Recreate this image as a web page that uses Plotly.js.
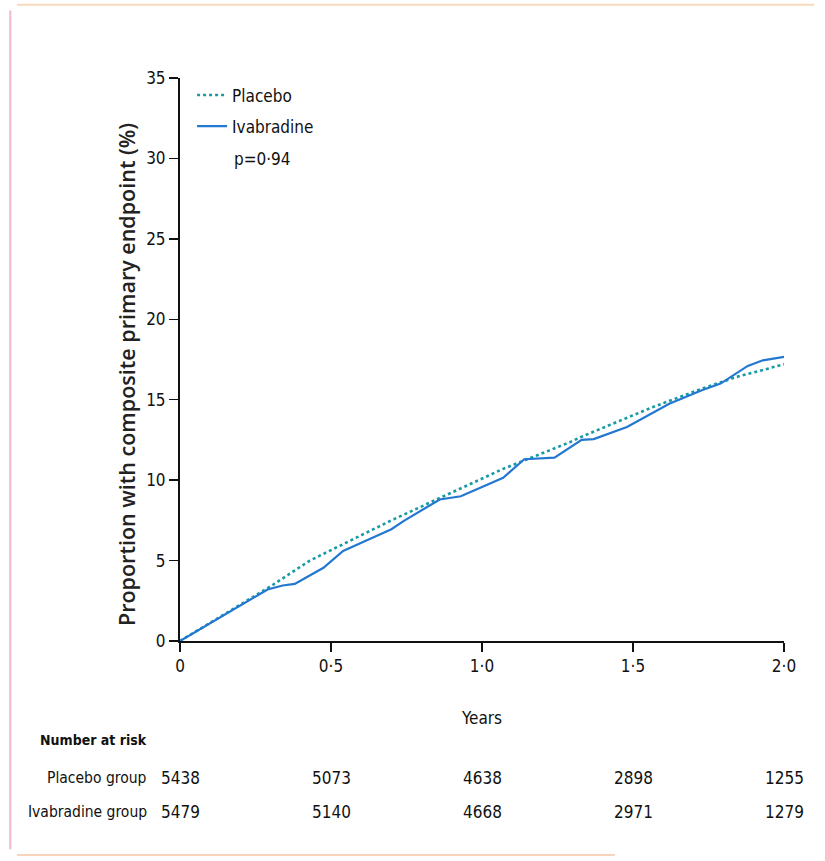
<!DOCTYPE html>
<html>
<head>
<meta charset="utf-8">
<script src="https://cdn.plot.ly/plotly-3.0.1.min.js"></script>
<style>html,body{margin:0;padding:0;background:#fff;}#chart{width:825px;height:861px;}</style>
</head>
<body>
<div id="chart"></div>
<script>
// ---- data ----
const placeboYears = [0, 0.15, 0.30, 0.43, 0.56, 0.70, 0.85, 1.07, 1.29, 1.33, 1.56, 1.73, 1.84, 2.00];
const placeboPct   = [0, 1.7, 3.4, 5.0, 6.2, 7.5, 8.8, 10.7, 12.35, 12.7, 14.5, 15.7, 16.4, 17.2];

const ivabYears = [0, 0.15, 0.29, 0.34, 0.38, 0.475, 0.54, 0.63, 0.70, 0.74, 0.86, 0.93, 0.98, 1.07, 1.14, 1.24, 1.33, 1.37, 1.48, 1.62, 1.73, 1.79, 1.88, 1.93, 2.01];
const ivabPct   = [0, 1.65, 3.2, 3.45, 3.55, 4.55, 5.6, 6.35, 6.95, 7.45, 8.8, 9.0, 9.4, 10.15, 11.3, 11.4, 12.5, 12.55, 13.3, 14.75, 15.6, 16.0, 17.1, 17.45, 17.7];

const seriesNames = ["Placebo", "Ivabradine"];
const pValueText = "p=0·94";
const yTitleText = "Proportion with composite primary endpoint (%)";

const xTickVals = [0, 0.5, 1.0, 1.5, 2.0];
const xTickText = ["0", "0·5", "1·0", "1·5", "2·0"];
const yTickVals = [0, 5, 10, 15, 20, 25, 30, 35];

const riskHeader = "Number at risk";
const riskGroups = ["Placebo group", "Ivabradine group"];
const riskPlacebo = [5438, 5073, 4638, 2898, 1255];
const riskIvab    = [5479, 5140, 4668, 2971, 1279];

// ---- styling ----
const narrow = "DejaVu Sans Condensed, Liberation Sans Narrow, Arial Narrow, sans-serif";
const tickFont = {family: narrow, size: 17, color: "#111"};

const traces = [
  {x: placeboYears, y: placeboPct, name: seriesNames[0], legendgroup: "a", type: "scatter", mode: "lines",
   line: {color: "#179aa6", width: 2.6, dash: "dot"}},
  {x: ivabYears, y: ivabPct, name: seriesNames[1], legendgroup: "b", type: "scatter", mode: "lines",
   line: {color: "#2277d0", width: 2.2}}
];

const annotations = [];
annotations.push({xref: "paper", yref: "paper", x: 0.0865, y: 0.856, xanchor: "left", yanchor: "middle",
  text: pValueText, showarrow: false, font: {family: narrow, size: 17, color: "#111"}});
annotations.push({xref: "paper", yref: "paper", x: -0.0877, y: 0.4725, xanchor: "center", yanchor: "middle",
  textangle: -90, text: yTitleText, showarrow: false,
  font: {family: "Open Sans, DejaVu Sans, sans-serif", size: 21.5, color: "#222", weight: 600}});
annotations.push({xref: "paper", yref: "paper", x: -0.051, y: -0.176, xanchor: "right", yanchor: "middle",
  text: "<b>" + riskHeader + "</b>", showarrow: false, font: {family: narrow, size: 14, color: "#111"}});
const rowY = [-0.243, -0.304];
const rows = [riskPlacebo, riskIvab];
for (let r = 0; r < 2; r++) {
  annotations.push({xref: "paper", yref: "paper", x: -0.051, y: rowY[r], xanchor: "right", yanchor: "middle",
    text: riskGroups[r], showarrow: false, font: {family: narrow, size: 15.5, color: "#111"}});
  for (let i = 0; i < xTickVals.length; i++) {
    annotations.push({xref: "x", yref: "paper", x: xTickVals[i], y: rowY[r], xanchor: "center", yanchor: "middle",
      text: String(rows[r][i]), showarrow: false, font: {family: narrow, size: 17, color: "#111"}});
  }
}

const layout = {
  width: 825, height: 861,
  margin: {l: 180, r: 41, t: 78, b: 220},
  paper_bgcolor: "#ffffff", plot_bgcolor: "#ffffff",
  showlegend: true,
  legend: {x: 0.02, y: 1.001, xanchor: "left", yanchor: "top", bgcolor: "rgba(0,0,0,0)",
           font: {family: narrow, size: 17, color: "#111"}, itemwidth: 30, tracegroupgap: 6},
  xaxis: {range: [0, 2.0], tickvals: xTickVals, ticktext: xTickText, ticks: "outside", ticklen: 9, tickwidth: 1.5,
          tickcolor: "#111", showline: true, linecolor: "#111", linewidth: 2, showgrid: false, zeroline: false,
          tickfont: tickFont, fixedrange: true,
          title: {text: "Years", font: {family: narrow, size: 17, color: "#111"}, standoff: 37}},
  yaxis: {range: [0, 35], tickvals: yTickVals, ticks: "outside", ticklen: 9, tickwidth: 1.5, tickcolor: "#111",
          showline: true, linecolor: "#111", linewidth: 2, showgrid: false, zeroline: false,
          tickfont: tickFont, fixedrange: true},
  annotations: annotations,
  shapes: [
    {type: "line", xref: "paper", yref: "paper", x0: -0.281, x1: -0.281, y0: 1.12, y1: -0.37,
     line: {color: "rgba(230,140,160,0.6)", width: 2}},
    {type: "line", xref: "paper", yref: "paper", x0: -0.27, x1: 1.05, y0: 1.13, y1: 1.13,
     line: {color: "rgba(240,180,120,0.5)", width: 2}},
    {type: "line", xref: "paper", yref: "paper", x0: -0.27, x1: 0.72, y0: -0.38, y1: -0.38,
     line: {color: "rgba(240,170,120,0.5)", width: 2}}
  ]
};

Plotly.newPlot("chart", traces, layout, {displayModeBar: false, staticPlot: true});
</script>
</body>
</html>
